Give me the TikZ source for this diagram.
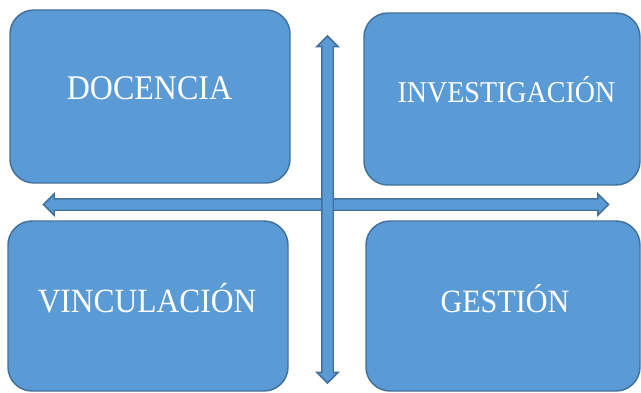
\documentclass[tikz,border=0pt]{standalone}
\usepackage{fontspec}
\setmainfont{Liberation Serif}
\usetikzlibrary{shapes.arrows}
\definecolor{boxfill}{HTML}{5B9BD5}
\definecolor{boxline}{HTML}{41719C}
\begin{document}
\begin{tikzpicture}[x=0.75pt,y=-0.75pt,
  area/.style={draw=boxline, fill=boxfill, line width=1.1pt, rounded corners=18pt, inner sep=0pt},
  lbl/.style={text=white, anchor=base, inner sep=0pt},
  dblarrow/.style={double arrow, draw=boxline, fill=boxfill, line width=1.1pt,
    inner xsep=0pt, inner ysep=3.75pt, double arrow head extend=3.75pt, minimum width=15pt}]
\useasboundingbox (0,0) rectangle (641,392);
% boxes
\node[area, minimum width=210pt, minimum height=129.75pt] (doc) at (150,96.5) {};
\node[area, minimum width=207pt, minimum height=129pt] (inv) at (502,99) {};
\node[area, minimum width=210pt, minimum height=127.5pt] (vin) at (148,306) {};
\node[area, minimum width=205.5pt, minimum height=127.5pt] (ges) at (503,306) {};
% labels
\node[lbl, font=\fontsize{24}{28}\selectfont] (doct) at (149.5,100) {\scalebox{1}[1.08]{DOCENCIA}};
\node[lbl, font=\fontsize{21}{25}\selectfont] (invt) at (506.5,103) {\scalebox{1}[1.08]{INVESTIGACIÓN}};
\node[lbl, font=\fontsize{23.6}{28}\selectfont] (vint) at (147,312) {\scalebox{1}[1.08]{VINCULACIÓN}};
\node[lbl, font=\fontsize{22.6}{27}\selectfont] (gest) at (505,312) {\scalebox{1}[1.08]{GESTIÓN}};
% arrows
\node[dblarrow, minimum height=423.75pt] (harrow) at (326,204.5) {};
\node[dblarrow, minimum height=260.25pt, rotate=90] (varrow) at (327.5,209.5) {};
\end{tikzpicture}
\end{document}
